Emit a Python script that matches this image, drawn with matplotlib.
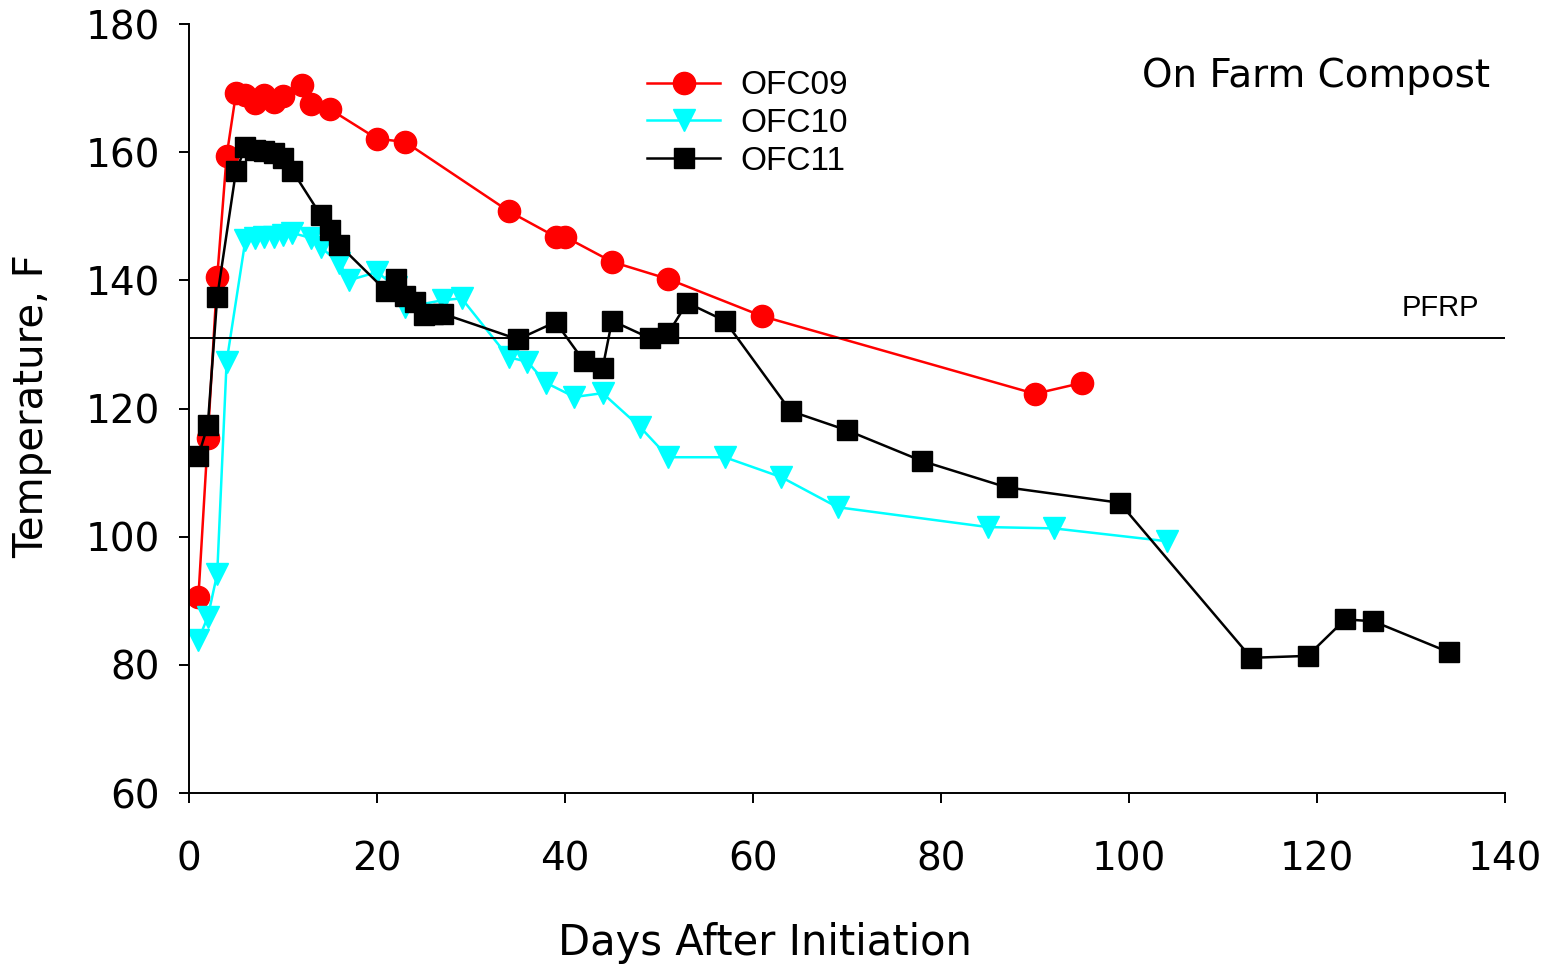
import numpy as np
import matplotlib
matplotlib.use('Agg')
import matplotlib.pyplot as plt

# data
ofc09_day = [1, 2, 3, 4, 5, 6, 7, 8, 9, 10, 12, 13, 15, 20, 23, 34, 39, 40, 45, 51, 61, 90, 95]
ofc09_temp = [90.6, 115.4, 140.5, 159.4, 169.2, 168.9, 167.7, 168.9, 167.8, 168.8, 170.5, 167.5,
              166.7, 162.1, 161.6, 150.8, 146.8, 146.8, 142.9, 140.2, 134.4, 122.3, 124.0]

ofc10_day = [1, 2, 3, 4, 6, 7, 8, 9, 10, 11, 13, 14, 16, 17, 20, 22, 23, 27, 29, 34, 36, 38, 41,
             44, 48, 51, 57, 63, 69, 85, 92, 104]
ofc10_temp = [83.9, 87.5, 94.2, 127.3, 146.3, 146.6, 146.8, 146.8, 147.1, 147.4, 146.6, 145.2,
              142.7, 140.0, 141.3, 139.0, 135.8, 136.9, 137.2, 128.0, 127.3, 124.0, 121.8,
              122.4, 117.1, 112.4, 112.4, 109.3, 104.6, 101.5, 101.3, 99.3]

ofc11_day = [1, 2, 3, 5, 6, 7, 8, 9, 10, 11, 14, 15, 16, 21, 22, 23, 24, 25, 26, 27, 35, 39, 42,
             44, 45, 49, 51, 53, 57, 64, 70, 78, 87, 99, 113, 119, 123, 126, 134]
ofc11_temp = [112.6, 117.4, 137.4, 157.1, 160.8, 160.3, 160.2, 159.9, 159.1, 157.1, 150.2, 147.9,
              145.5, 138.3, 140.2, 137.6, 136.6, 134.6, 134.7, 134.8, 130.8, 133.5, 127.4,
              126.3, 133.7, 131.0, 131.8, 136.5, 133.7, 119.6, 116.6, 111.8, 107.7, 105.3,
              81.1, 81.4, 87.1, 86.8, 82.0]

pfrp = 131

fig = plt.figure(figsize=(15.48, 9.65), dpi=100)
ax = fig.add_axes([0.1221, 0.1782, 0.8501, 0.7969])

ax.plot(ofc09_day, ofc09_temp, color='#ff0000', lw=1.8, marker='o', ms=16, label='OFC09')
ax.plot(ofc10_day, ofc10_temp, color='#00ffff', lw=1.8, marker='v', ms=16, label='OFC10')
ax.plot(ofc11_day, ofc11_temp, color='black', lw=1.8, marker='s', ms=14.5, label='OFC11')
ax.axhline(pfrp, color='black', lw=1.4)

ax.set_xlim(0, 140)
ax.set_ylim(60, 180)
ax.set_xticks(np.arange(0, 141, 20))
ax.set_yticks(np.arange(60, 181, 20))
ax.tick_params(direction='out', length=7, width=1.4, labelsize=28)
ax.tick_params(axis='x', pad=27)
ax.tick_params(axis='y', pad=14)
for s in ['top', 'right']:
    ax.spines[s].set_visible(False)
for s in ['left', 'bottom']:
    ax.spines[s].set_linewidth(1.4)

ax.set_xlabel('Days After Initiation', fontsize=30, va='top')
ax.xaxis.set_label_coords(0.4377, -0.168)
ax.set_ylabel('Temperature, F', fontsize=29)
ax.yaxis.set_label_coords(-0.104, 0.503)

ax.text(0.9886, 0.932, 'On Farm Compost', transform=ax.transAxes, ha='right', va='center',
        fontsize=28)
ax.text(0.98, 135.7, 'PFRP', transform=ax.get_yaxis_transform(), ha='right', va='center',
        fontsize=21, family='Liberation Sans')

ax.legend(loc='upper left', bbox_to_anchor=(0.338, 0.957), frameon=False,
          prop={'family': 'Liberation Sans', 'size': 24},
          handlelength=2.2, handletextpad=0.6, labelspacing=0.2, borderaxespad=0)

fig.savefig('out.png', dpi=100)
